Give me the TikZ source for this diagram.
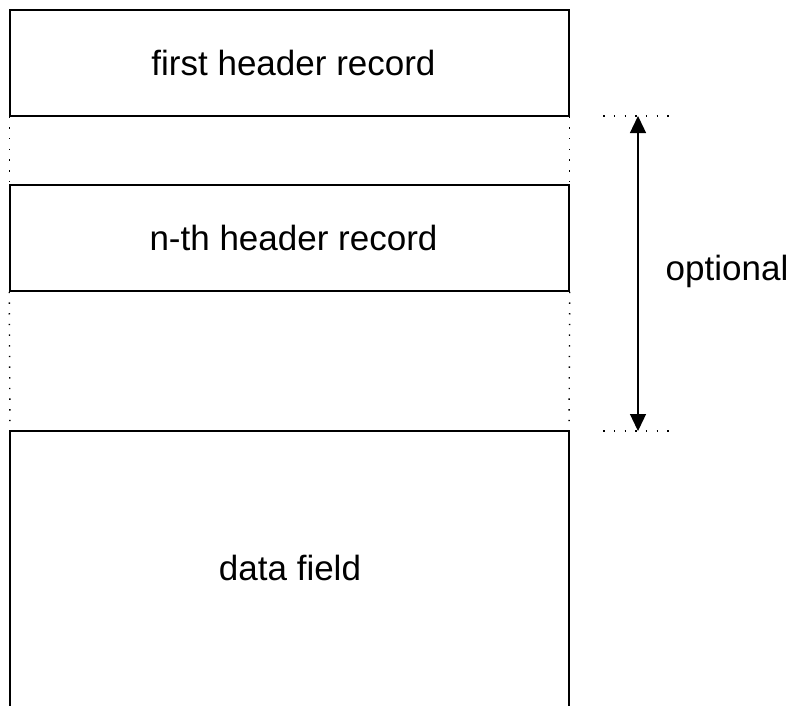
\documentclass[tikz,border=0pt]{standalone}
\usepackage{fontspec}
\setmainfont{Liberation Sans}
\usepackage{tikz}
\usetikzlibrary{positioning,arrows.meta}
\tikzset{
  rec/.style={draw, line width=1.5pt, minimum width=559pt, minimum height=106pt, inner sep=0pt},
  lbl/.style={font=\fontsize{35}{40}\selectfont},
  dots/.style={line width=1.4pt, dash pattern=on 1.4pt off 9.27pt},
  optarrow/.style={line width=1.3pt, {Triangle[width=16pt,length=17pt]}-{Triangle[width=16pt,length=17pt]}}
}

\begin{document}
\begin{tikzpicture}[x=1pt,y=-1pt]
	\useasboundingbox (0,0) rectangle (792,705);
	\node[rec,lbl] (first) at (289.5,63) {\hspace{8pt}first header record};
	\node[rec,lbl] (nth) at (289.5,238) {\hspace{8pt}n-th header record};
	\coordinate (dtl) at (10,431);
	\coordinate (dtr) at (569,431);
	\draw[line width=1.5pt] (10,706) -- (dtl) -- (dtr) -- (569,706);
	\node[lbl] (data) at (290,568) {data field};
	\draw[dots] (first.south west) -- (nth.north west);
	\draw[dots] (first.south east) -- (nth.north east);
	\draw[dots] (nth.south west) -- (dtl);
	\draw[dots] (nth.south east) -- (dtr);
	\coordinate (otop) at (638,116);
	\coordinate (obot) at (638,431);
	\draw[dots] (603.3,116) -- (672,116);
	\draw[dots] (603.3,431) -- (672,431);
	\draw[optarrow] (otop) -- (obot);
	\node[lbl] (opt) at (727,271) {optional};
\end{tikzpicture}
\end{document}
